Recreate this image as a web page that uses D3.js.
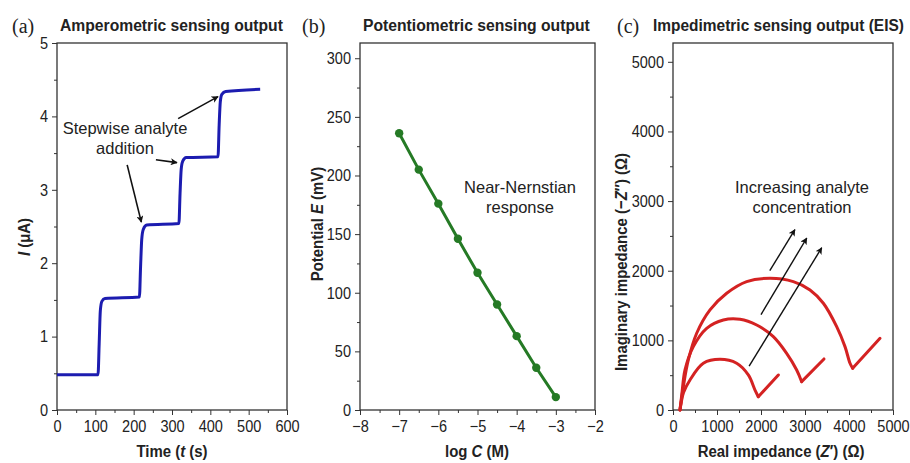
<!DOCTYPE html>
<html>
<head>
<meta charset="utf-8">
<script src="https://cdn.jsdelivr.net/npm/d3@7"></script>
<style>
  body { margin: 0; background: #fff; }
  text { font-family: "Liberation Sans", Arial, sans-serif; fill: #222; }
  .ttl { font-size: 17px; font-weight: bold; }
  .lab { font-family: "Liberation Serif", "Times New Roman", serif; font-size: 20px; }
  .note { font-size: 16.5px; }
</style>
</head>
<body>
<div class="chart"></div>
<script>
// (a) amperometric current vs time
const ampTime = [0, 107, 110, 113, 117, 125, 215, 218, 221, 225, 234, 318, 321, 324, 328, 337, 420, 423, 426, 430, 440, 530];
const ampCurrent = [0.48, 0.48, 0.9, 1.35, 1.48, 1.52, 1.54, 1.95, 2.32, 2.46, 2.52, 2.54, 2.95, 3.28, 3.39, 3.44, 3.45, 3.88, 4.2, 4.3, 4.34, 4.37];

// (b) potential vs log C
const logC = [-7, -6.5, -6, -5.5, -5, -4.5, -4, -3.5, -3];
const potential = [236, 205, 176, 146, 117, 90, 63, 36, 11];

// (c) Nyquist arcs (Z', -Z'') and diffusion tails
const arc1Re = [159, 190, 240, 386, 689, 1068, 1447, 1712, 1864, 1939];
const arc1Im = [0, 120, 250, 431, 671, 728, 671, 503, 287, 191];
const tail1 = [[1939, 191], [2394, 503]];
const arc2Re = [159, 205, 273, 462, 765, 1144, 1523, 1902, 2280, 2583, 2811, 2924];
const arc2Im = [0, 250, 575, 910, 1173, 1293, 1303, 1221, 1054, 814, 575, 407];
const tail2 = [[2924, 407], [3432, 733]];
const arc3Re = [159, 235, 348, 538, 841, 1220, 1674, 2205, 2735, 3114, 3417, 3720, 3909, 4023, 4083];
const arc3Im = [0, 335, 718, 1102, 1437, 1676, 1844, 1892, 1844, 1724, 1533, 1197, 910, 671, 599];
const tail3 = [[4083, 599], [4705, 1030]];

const width = 910, height = 463;
const narrow = 0.88;
const svg = d3.select(".chart").append("svg")
    .attr("width", width)
    .attr("height", height);

// arrow marker
svg.append("defs").append("marker")
    .attr("id", "head")
    .attr("viewBox", "0 0 10 10")
    .attr("refX", 9).attr("refY", 5)
    .attr("markerWidth", 7).attr("markerHeight", 7)
    .attr("markerUnits", "userSpaceOnUse")
    .attr("orient", "auto")
    .append("path")
    .attr("d", "M0,0 L10,5 L0,10 L2.5,5 Z")
    .attr("fill", "#111");

function panel(o) {
    const x = d3.scaleLinear().domain(o.xd).range([o.l, o.r]);
    const y = d3.scaleLinear().domain(o.yd).range([410, 43]);
    const g = svg.append("g");
    const fmt = d3.format("d");

    // minor ticks
    g.append("g").attr("transform", "translate(0,410)")
        .call(d3.axisBottom(x).tickValues(o.xMinor).tickSize(3).tickFormat(""))
        .call(a => a.select(".domain").remove());
    g.append("g").attr("transform", `translate(${o.l},0)`)
        .call(d3.axisLeft(y).tickValues(o.yMinor).tickSize(3).tickFormat(""))
        .call(a => a.select(".domain").remove());

    const xa = g.append("g").attr("transform", "translate(0,410)")
        .call(d3.axisBottom(x).tickValues(o.xTicks).tickSize(5).tickPadding(5).tickFormat(fmt));
    const ya = g.append("g").attr("transform", `translate(${o.l},0)`)
        .call(d3.axisLeft(y).tickValues(o.yTicks).tickSize(5).tickPadding(4).tickFormat(fmt));
    [xa, ya].forEach(a => {
        a.select(".domain").remove();
        a.selectAll("text")
            .style("font-size", "16.5px")
            .attr("fill", "#222")
            .attr("transform", `scale(${narrow},1)`);
    });
    ya.selectAll("text").attr("x", -9 / narrow);
    g.selectAll(".tick line").attr("stroke", "#333");

    g.append("rect")
        .attr("x", o.l).attr("y", 43)
        .attr("width", o.r - o.l).attr("height", 367)
        .attr("fill", "none").attr("stroke", "#333").attr("stroke-width", 1.3);

    return { g, x, y, xa };
}

function title(lx, tx, lab, txt, len) {
    svg.append("text").attr("class", "lab").attr("x", lx).attr("y", 33).text(lab);
    const t = svg.append("text").attr("class", "ttl").text(txt);
    const natural = t.node().getComputedTextLength();
    t.attr("transform", `translate(${tx},31) scale(${len / natural},1)`);
}

function axisTitle(x, y, rot, html) {
    svg.append("text").attr("class", "ttl")
        .attr("transform", `translate(${x},${y}) rotate(${rot}) scale(${narrow},1)`)
        .attr("text-anchor", "middle")
        .html(html);
}

function arrow(p, a, w) {
    svg.append("line")
        .attr("x1", p.x(a[0][0])).attr("y1", p.y(a[0][1]))
        .attr("x2", p.x(a[1][0])).attr("y2", p.y(a[1][1]))
        .attr("stroke", "#111").attr("stroke-width", w)
        .attr("marker-end", "url(#head)");
}

function note(x, y, lines) {
    lines.forEach((t, i) => {
        svg.append("text").attr("class", "note").attr("x", x).attr("y", y + i * 20)
            .attr("text-anchor", "middle").text(t);
    });
}

// ---------- (a) ----------
const pa = panel({
    l: 57, r: 287, xd: [0, 600], yd: [0, 5],
    xTicks: d3.range(0, 601, 100), xMinor: d3.range(50, 600, 100),
    yTicks: d3.range(0, 6), yMinor: [0.5, 1.5, 2.5, 3.5, 4.5]
});
pa.g.append("path")
    .datum(ampTime.map((t, i) => [t, ampCurrent[i]]))
    .attr("fill", "none")
    .attr("stroke", "#1c1cb0")
    .attr("stroke-width", 3)
    .attr("d", d3.line().x(d => pa.x(d[0])).y(d => pa.y(d[1])).curve(d3.curveMonotoneX));

title(12, 60, "(a)", "Amperometric sensing output", 223);
note(125, 134, ["Stepwise analyte", "addition"]);

[
    [[316, 3.97], [420, 4.27]],
    [[258, 3.41], [313, 3.37]],
    [[183, 3.34], [220, 2.56]]
].forEach(a => arrow(pa, a, 1.6));

axisTitle(172, 457, 0, 'Time (<tspan font-style="italic">t</tspan> (s)');
axisTitle(30, 237, -90, '<tspan font-style="italic">I</tspan> (μA)');

// ---------- (b) ----------
const pb = panel({
    l: 360, r: 595, xd: [-8, -2], yd: [0, 313],
    xTicks: d3.range(-8, -1, 1), xMinor: d3.range(-7.5, -2, 1),
    yTicks: d3.range(0, 301, 50), yMinor: d3.range(25, 313, 50)
});
const potData = logC.map((c, i) => [c, potential[i]]);
pb.g.append("path")
    .datum(potData)
    .attr("fill", "none")
    .attr("stroke", "#257a25")
    .attr("stroke-width", 3)
    .attr("d", d3.line().x(d => pb.x(d[0])).y(d => pb.y(d[1])));
pb.g.selectAll("circle")
    .data(potData)
    .enter()
    .append("circle")
    .attr("cx", d => pb.x(d[0]))
    .attr("cy", d => pb.y(d[1]))
    .attr("r", 4.2)
    .attr("fill", "#257a25");

title(302, 363, "(b)", "Potentiometric sensing output", 227);
note(520, 193, ["Near-Nernstian", "response"]);

axisTitle(477, 457, 0, 'log <tspan font-style="italic">C</tspan> (M)');
axisTitle(323, 224, -90, 'Potential <tspan font-style="italic">E</tspan> (mV)');

// ---------- (c) ----------
const pc = panel({
    l: 673, r: 893, xd: [0, 5000], yd: [0, 5270],
    xTicks: d3.range(0, 5001, 1000), xMinor: d3.range(500, 5000, 1000),
    yTicks: d3.range(0, 5001, 1000), yMinor: d3.range(500, 5270, 1000)
});
pc.xa.selectAll(".tick text").filter(d => d === 5000).attr("fill", "#aaa");

const arcLine = d3.line().x(d => pc.x(d[0])).y(d => pc.y(d[1])).curve(d3.curveCatmullRom);
const tailLine = d3.line().x(d => pc.x(d[0])).y(d => pc.y(d[1]));
[
    [arc1Re, arc1Im, tail1],
    [arc2Re, arc2Im, tail2],
    [arc3Re, arc3Im, tail3]
].forEach(a => {
    pc.g.append("path")
        .datum(a[0].map((v, i) => [v, a[1][i]]))
        .attr("fill", "none").attr("stroke", "#d42222").attr("stroke-width", 3)
        .attr("stroke-linecap", "round")
        .attr("d", arcLine);
    pc.g.append("path")
        .datum(a[2])
        .attr("fill", "none").attr("stroke", "#d42222").attr("stroke-width", 3)
        .attr("stroke-linecap", "round")
        .attr("d", tailLine);
});

[
    [[2200, 2000], [2770, 2590]],
    [[2000, 1370], [3040, 2470]],
    [[1730, 630], [3380, 2330]]
].forEach(a => arrow(pc, a, 1.4));

title(617, 653, "(c)", "Impedimetric sensing output (EIS)", 251);
note(802, 193, ["Increasing analyte", "concentration"]);

axisTitle(781, 457, 0, 'Real impedance (<tspan font-style="italic">Z</tspan>′) (Ω)');
axisTitle(627, 262, -90, 'Imaginary impedance (−<tspan font-style="italic">Z</tspan>″) (Ω)');
</script>
</body>
</html>
